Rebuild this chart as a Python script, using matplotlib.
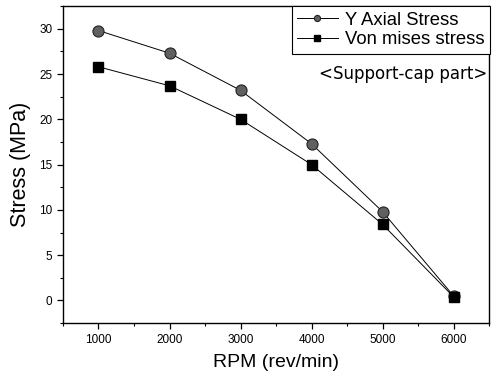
import numpy as np
import matplotlib.pyplot as plt
from matplotlib.ticker import MultipleLocator

# Daten
rpm = [1000, 2000, 3000, 4000, 5000, 6000]
y_axial = [29.8, 27.3, 23.2, 17.3, 9.8, 0.5]
von_mises = [25.8, 23.7, 20.0, 15.0, 8.4, 0.4]
xticks = [1000, 2000, 3000, 4000, 5000, 6000]
yticks = [0, 5, 10, 15, 20, 25, 30]

plt.rcParams['font.family'] = ['Liberation Sans', 'DejaVu Sans']

fig = plt.figure(figsize=(4.94, 3.81), dpi=100)
ax = fig.add_axes([0.1275, 0.152, 0.8625, 0.832])

ax.plot(rpm, y_axial, '-o', color='black', lw=0.7, ms=8,
        mfc='#606060', mec='#222222', mew=0.8, label='Y Axial Stress')
ax.plot(rpm, von_mises, '-s', color='black', lw=0.7, ms=7.5,
        mfc='black', mec='black', label='Von mises stress')

ax.set_xlim(500, 6500)
ax.set_ylim(-2.5, 32.5)
ax.set_xticks(xticks)
ax.set_yticks(yticks)
ax.xaxis.set_minor_locator(MultipleLocator(500))
ax.yaxis.set_minor_locator(MultipleLocator(2.5))
ax.tick_params(which='major', direction='out', length=4, width=0.9, labelsize=8.5)
ax.tick_params(which='minor', direction='out', length=2.5, width=0.8)
for s in ax.spines.values():
    s.set_linewidth(1.0)

ax.set_xlabel('RPM (rev/min)', fontsize=14, labelpad=6)
ax.set_ylabel('Stress (MPa)', fontsize=15.5, labelpad=6)

# Legende oben rechts
leg = ax.legend(loc='upper right', bbox_to_anchor=(1.003, 1.0), borderaxespad=0,
                fancybox=False, framealpha=1, edgecolor='black',
                prop={'family': 'Liberation Sans', 'size': 13.3},
                handlelength=2.2, handletextpad=0.4, labelspacing=0.15,
                borderpad=0.3, markerscale=0.55)
leg.get_frame().set_linewidth(0.8)

ax.text(0.995, 0.785, '<Support-cap part>', transform=ax.transAxes,
        ha='right', va='center', fontsize=12, family='DejaVu Sans')

fig.savefig('out.png', dpi=100)
